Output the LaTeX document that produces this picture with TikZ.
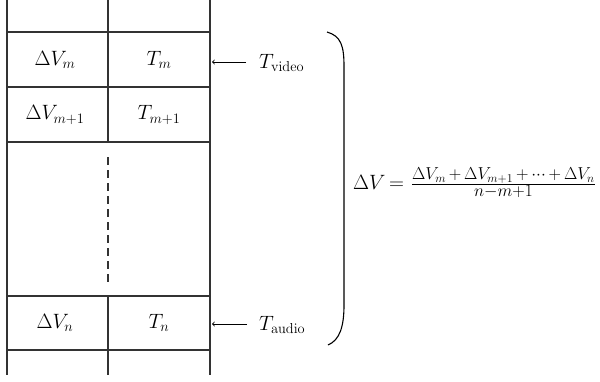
\documentclass[tikz,border=0pt]{standalone}
\usetikzlibrary{arrows}
\newcommand{\bigsc}[1]{\mbox{\fontsize{24}{27}\selectfont$\scriptstyle #1$}}
\begin{document}
\begin{tikzpicture}[x=1pt,y=-1pt,
  ln/.style={line width=1.1pt,draw=black!80},
  cell/.style={font=\fontsize{20}{24}\selectfont,inner sep=0pt},
  lab/.style={font=\fontsize{20.5}{24}\selectfont,inner sep=0pt,anchor=west},
  frm/.style={font=\fontsize{21}{24}\selectfont,inner sep=0pt,anchor=west},
  arr/.style={line width=0.9pt,-to}]
\useasboundingbox (0,0) rectangle (600,381);
% vertical lines
\draw[ln] (7,0) -- (7,375);
\draw[ln] (210,0) -- (210,375);
\draw[ln] (108,0) -- (108,142);
\draw[ln] (108,296) -- (108,375);
\draw[ln,dash pattern=on 8pt off 5pt] (108,157) -- (108,286);
% horizontal lines
\foreach \y in {32,87,142,296,350} \draw[ln] (7,\y) -- (210,\y);
% cells
\node[cell] (v1) at (55,60) {$\Delta V_m$};
\node[cell] (t1) at (159,60) {$T_m$};
\node[cell] (v2) at (55,115) {$\Delta V_{m+1}$};
\node[cell] (t2) at (159,115) {$T_{m+1}$};
\node[cell] (v3) at (55,323) {$\Delta V_n$};
\node[cell] (t3) at (159,323) {$T_n$};
% labels and arrows
\coordinate (p1) at (212,62);
\coordinate (p2) at (212,324);
\node[lab] (tv) at (259,63) {$T_{\mathrm{video}}$};
\node[lab] (ta) at (259,325) {$T_{\mathrm{audio}}$};
\draw[arr] (246,62) coordinate (s1) -- (p1);
\draw[arr] (247,324) coordinate (s2) -- (p2);
% brace
\draw[line width=1.1pt] (327,32) .. controls (341,36) and (344,46) .. (344,66) -- (344,305) .. controls (344,326) and (340,340) .. (328,345);
% formula
\node[frm] (f) at (353,183) {$\Delta V\,{=}\,\,\frac{\bigsc{\Delta V_m\,+\,\Delta V_{m+1}\,+\,\cdots\,+\,\Delta V_n}}{\bigsc{n-m+1}}$};
\end{tikzpicture}
\end{document}
